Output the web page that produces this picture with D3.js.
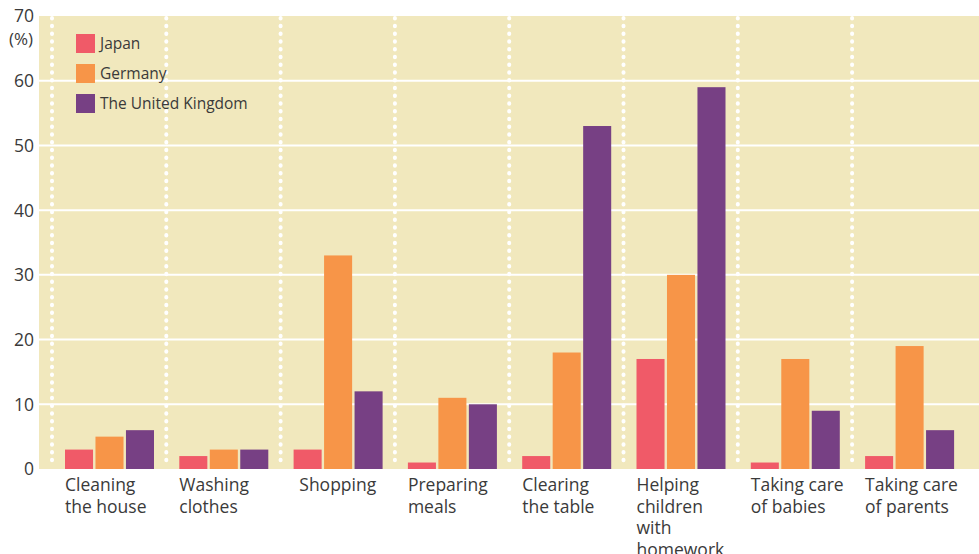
<!DOCTYPE html>
<html>
<head>
<meta charset="utf-8">
<script src="https://cdn.jsdelivr.net/npm/d3@7"></script>
<style>
  html, body { margin: 0; padding: 0; background: #ffffff; }
  svg { display: block; }
  text { font-family: "Open Sans", sans-serif; fill: #3a3a3a; }
</style>
</head>
<body>
<svg id="chart" width="979" height="554"></svg>
<script>
const categories = [
  ["Cleaning", "the house"],
  ["Washing", "clothes"],
  ["Shopping"],
  ["Preparing", "meals"],
  ["Clearing", "the table"],
  ["Helping", "children", "with", "homework"],
  ["Taking care", "of babies"],
  ["Taking care", "of parents"]
];
const seriesNames = ["Japan", "Germany", "The United Kingdom"];
const japan   = [3, 2, 3, 1, 2, 17, 1, 2];
const germany = [5, 3, 33, 11, 18, 30, 17, 19];
const uk      = [6, 3, 12, 10, 53, 59, 9, 6];
const colors  = ["#f05a68", "#f79548", "#774084"];
const yTicks  = [0, 10, 20, 30, 40, 50, 60, 70];

const series = [japan, germany, uk];
const catKeys = categories.map(c => c.join(" "));

const svg = d3.select("#chart");
const plotLeft = 39, plotRight = 979, plotTop = 16, plotBottom = 469;

const y = d3.scaleLinear().domain([0, 70]).range([plotBottom, plotTop]);
const x = d3.scaleBand().domain(catKeys).range([52, 52 + 8 * 114.3]).paddingInner(0).paddingOuter(0);
const xs = d3.scaleBand().domain(seriesNames).range([13, 102]).paddingInner(0.08).paddingOuter(0);

// background
svg.append("rect").attr("x", plotLeft).attr("y", plotTop)
  .attr("width", plotRight - plotLeft).attr("height", plotBottom - plotTop)
  .attr("fill", "#f1e8bd");

// horizontal gridlines
svg.append("g").selectAll("line").data(yTicks.filter(d => d > 0 && d < 70)).join("line")
  .attr("x1", plotLeft).attr("x2", plotRight)
  .attr("y1", d => y(d)).attr("y2", d => y(d))
  .attr("stroke", "#ffffff").attr("stroke-width", 2);

// dotted separators
svg.append("g").selectAll("line").data(catKeys).join("line")
  .attr("x1", d => x(d)).attr("x2", d => x(d))
  .attr("y1", plotTop + 2).attr("y2", plotBottom - 2)
  .attr("stroke", "#ffffff").attr("stroke-width", 4)
  .attr("stroke-linecap", "round")
  .attr("stroke-dasharray", "0.4 7.35");

// bars
series.forEach((vals, si) => {
  svg.append("g").selectAll("rect").data(vals).join("rect")
    .attr("x", (d, i) => x(catKeys[i]) + xs(seriesNames[si]))
    .attr("y", d => y(d))
    .attr("width", xs.bandwidth())
    .attr("height", d => y(0) - y(d))
    .attr("fill", colors[si]);
});

// y axis labels
const yAxis = d3.axisLeft(y).tickValues(yTicks).tickSize(0).tickPadding(0);
const yg = svg.append("g").attr("transform", "translate(34,0)").call(yAxis);
yg.select(".domain").remove();
yg.selectAll("text").attr("font-size", 17.5).attr("fill", "#3a3a3a")
  .attr("font-family", "Open Sans, sans-serif").attr("dy", "0.34em");

svg.append("text").attr("x", 33).attr("y", 45).attr("text-anchor", "end")
  .attr("font-size", 17).text("(%)");

// x labels
const xl = svg.append("g");
categories.forEach((lines, i) => {
  const k = catKeys[i];
  const single = lines.length === 1;
  const tx = single ? x(k) + x.bandwidth() / 2 : x(k) + 13;
  const t = xl.append("text")
    .attr("x", tx)
    .attr("y", 491)
    .attr("text-anchor", single ? "middle" : "start")
    .attr("font-size", 17.5);
  lines.forEach((ln, j) => {
    t.append("tspan").attr("x", tx)
      .attr("dy", j === 0 ? 0 : 21.5).text(ln);
  });
});

// legend
const lg = svg.append("g");
seriesNames.forEach((n, i) => {
  lg.append("rect").attr("x", 76).attr("y", 34 + i * 30).attr("width", 19).attr("height", 19)
    .attr("fill", colors[i]);
  lg.append("text").attr("x", 100).attr("y", 44 + i * 30).attr("dy", "0.35em")
    .attr("font-size", 15.5).text(n);
});
</script>
</body>
</html>
